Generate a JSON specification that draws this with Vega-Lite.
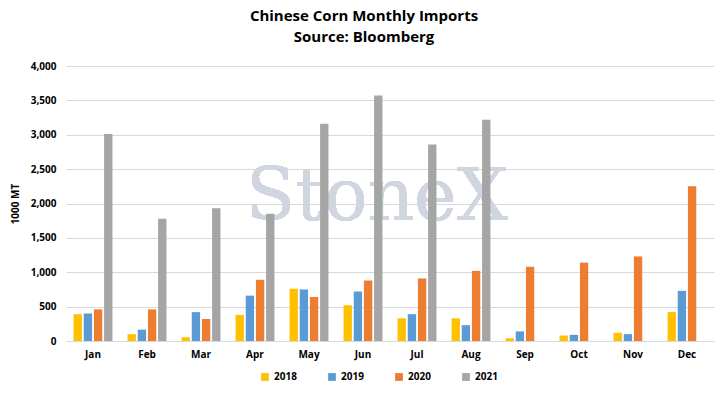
{
  "$schema": "https://vega.github.io/schema/vega-lite/v6.json",
  "width": 726,
  "height": 393,
  "autosize": {"type": "fit", "contains": "padding"},
  "padding": {"left": 10, "right": 12, "top": 9, "bottom": 34},
  "background": "white",
  "title": {
    "text": ["Chinese Corn Monthly Imports", "Source: Bloomberg"],
    "font": "Open Sans",
    "fontSize": 15,
    "fontWeight": "bold",
    "color": "#000000",
    "lineHeight": 21,
    "offset": 16,
    "anchor": "middle",
    "dx": -26
  },
  "config": {
    "view": {"stroke": null},
    "font": "Open Sans",
    "axisY": {
      "grid": true,
      "gridColor": "#d9d9d9",
      "domain": false,
      "ticks": false,
      "labelFontWeight": "bold",
      "labelFontSize": 10,
      "labelColor": "#000000",
      "labelPadding": 10,
      "titleFontWeight": "bold",
      "titleFontSize": 10,
      "titleColor": "#000000",
      "titlePadding": 10
    },
    "axisX": {
      "grid": false,
      "ticks": false,
      "domainColor": "#d9d9d9",
      "labelFontWeight": "bold",
      "labelFontSize": 10,
      "labelColor": "#000000",
      "labelPadding": 8,
      "labelAngle": 0
    }
  },
  "data": {
    "values": [
      {"month": "Jan", "year": "2018", "value": 390},
      {"month": "Jan", "year": "2019", "value": 400},
      {"month": "Jan", "year": "2020", "value": 460},
      {"month": "Jan", "year": "2021", "value": 3010},
      {"month": "Feb", "year": "2018", "value": 100},
      {"month": "Feb", "year": "2019", "value": 165},
      {"month": "Feb", "year": "2020", "value": 460},
      {"month": "Feb", "year": "2021", "value": 1780},
      {"month": "Mar", "year": "2018", "value": 55},
      {"month": "Mar", "year": "2019", "value": 420},
      {"month": "Mar", "year": "2020", "value": 320},
      {"month": "Mar", "year": "2021", "value": 1930},
      {"month": "Apr", "year": "2018", "value": 380},
      {"month": "Apr", "year": "2019", "value": 660},
      {"month": "Apr", "year": "2020", "value": 890},
      {"month": "Apr", "year": "2021", "value": 1850},
      {"month": "May", "year": "2018", "value": 760},
      {"month": "May", "year": "2019", "value": 750},
      {"month": "May", "year": "2020", "value": 640},
      {"month": "May", "year": "2021", "value": 3160},
      {"month": "Jun", "year": "2018", "value": 520},
      {"month": "Jun", "year": "2019", "value": 720},
      {"month": "Jun", "year": "2020", "value": 880},
      {"month": "Jun", "year": "2021", "value": 3570},
      {"month": "Jul", "year": "2018", "value": 330},
      {"month": "Jul", "year": "2019", "value": 390},
      {"month": "Jul", "year": "2020", "value": 910},
      {"month": "Jul", "year": "2021", "value": 2860},
      {"month": "Aug", "year": "2018", "value": 330},
      {"month": "Aug", "year": "2019", "value": 230},
      {"month": "Aug", "year": "2020", "value": 1020},
      {"month": "Aug", "year": "2021", "value": 3220},
      {"month": "Sep", "year": "2018", "value": 40},
      {"month": "Sep", "year": "2019", "value": 140},
      {"month": "Sep", "year": "2020", "value": 1080},
      {"month": "Sep", "year": "2021", "value": null},
      {"month": "Oct", "year": "2018", "value": 80},
      {"month": "Oct", "year": "2019", "value": 90},
      {"month": "Oct", "year": "2020", "value": 1140},
      {"month": "Oct", "year": "2021", "value": null},
      {"month": "Nov", "year": "2018", "value": 120},
      {"month": "Nov", "year": "2019", "value": 100},
      {"month": "Nov", "year": "2020", "value": 1230},
      {"month": "Nov", "year": "2021", "value": null},
      {"month": "Dec", "year": "2018", "value": 420},
      {"month": "Dec", "year": "2019", "value": 730},
      {"month": "Dec", "year": "2020", "value": 2250},
      {"month": "Dec", "year": "2021", "value": null}
    ]
  },
  "encoding": {
    "x": {
      "field": "month",
      "type": "nominal",
      "sort": ["Jan","Feb","Mar","Apr","May","Jun","Jul","Aug","Sep","Oct","Nov","Dec"],
      "scale": {"paddingInner": 0.28, "paddingOuter": 0.14},
      "axis": {"title": null}
    },
    "y": {
      "field": "value",
      "type": "quantitative",
      "scale": {"domain": [0, 4000]},
      "axis": {
        "title": "1000 MT",
        "values": [0,500,1000,1500,2000,2500,3000,3500,4000],
        "format": ",.0f"
      }
    }
  },
  "layer": [
    {
      "mark": {"type": "text", "font": "DejaVu Serif", "fontSize": 72, "color": "#d0d6df", "align": "center", "baseline": "alphabetic", "dx": 14},
      "encoding": {
        "x": {"datum": "Jun", "type": "nominal"},
        "y": {"datum": 1760, "type": "quantitative"},
        "text": {"value": "StoneX"}
      }
    },
    {
      "mark": {"type": "bar"},
      "encoding": {
        "xOffset": {
          "field": "year",
          "type": "nominal",
          "scale": {"paddingInner": 0.18}
        },
        "color": {
          "field": "year",
          "type": "nominal",
          "scale": {"domain": ["2018","2019","2020","2021"], "range": ["#FFC000","#5B9BD5","#ED7D31","#A5A5A5"]},
          "legend": {
            "title": null,
            "orient": "none",
            "legendX": 194,
            "legendY": 306,
            "direction": "horizontal",
            "symbolType": "square",
            "symbolSize": 60,
            "symbolStrokeWidth": 0,
            "labelFontWeight": "bold",
            "labelFontSize": 10,
            "labelColor": "#000000",
            "columnPadding": 30
          }
        }
      }
    }
  ]
}
